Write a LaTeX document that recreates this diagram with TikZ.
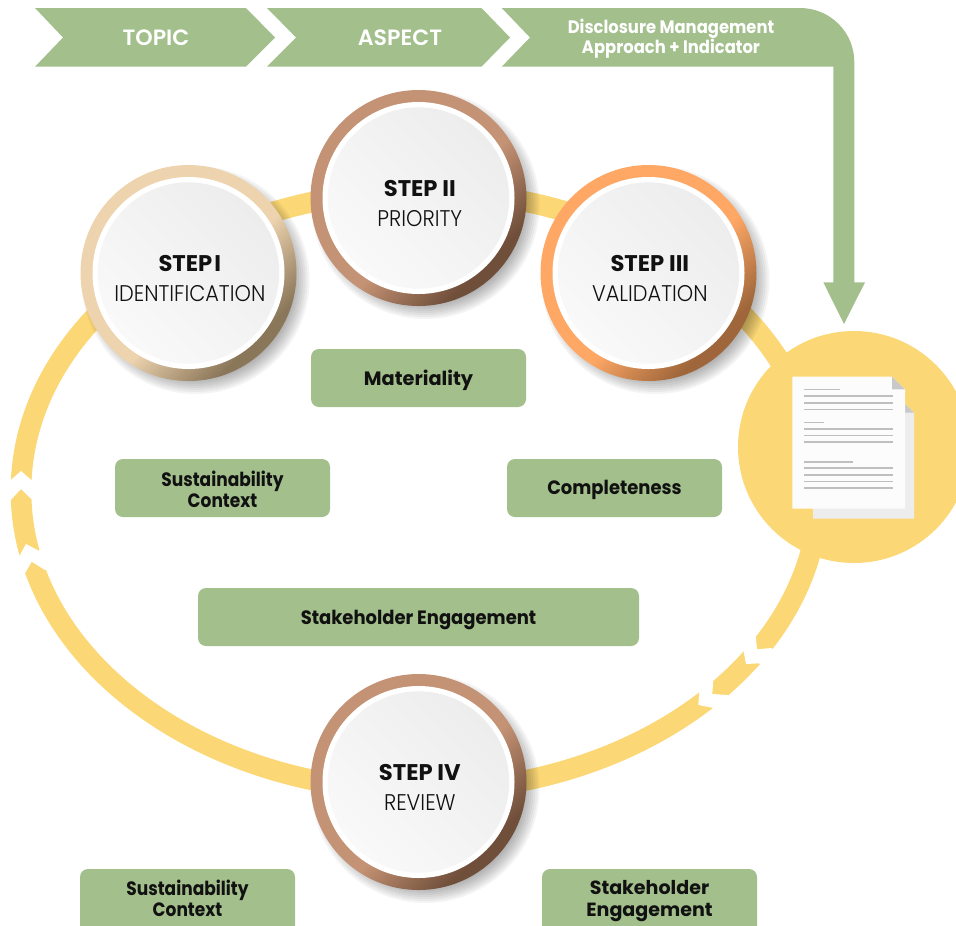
\documentclass[tikz,border=0pt]{standalone}
\usepackage{fontspec}
\setmainfont{Poppins}
\newfontfamily\lightf[UprightFont=* Light,FakeStretch=0.92]{Poppins}
\newfontfamily\semif[UprightFont=* SemiBold]{Poppins}
\newfontfamily\semicond[UprightFont=* Bold,FakeStretch=0.91]{Poppins}
\newfontfamily\boldA[UprightFont=* Bold,FakeStretch=0.88]{Poppins}
\newfontfamily\boldB[UprightFont=* Bold,FakeStretch=0.93]{Poppins}
\newfontfamily\boldC[UprightFont=* Bold]{Poppins}
\definecolor{ringy}{HTML}{FBD775}
\definecolor{leaf}{HTML}{A2BF8C}
\definecolor{inka}{HTML}{111111}
\definecolor{rimIa}{HTML}{EDD3AE}\definecolor{rimIb}{HTML}{8A7659}
\definecolor{rimIIa}{HTML}{C49274}\definecolor{rimIIb}{HTML}{6F4E3A}
\definecolor{rimIIIa}{HTML}{FFA866}\definecolor{rimIIIb}{HTML}{9E663A}
\definecolor{discA}{HTML}{EDEDED}\definecolor{discB}{HTML}{F9F9F9}
\pgfdeclarehorizontalshading{shRimI}{100bp}{color(0bp)=(rimIa);color(55bp)=(rimIa);color(72bp)=(rimIb);color(100bp)=(rimIb)}
\pgfdeclarehorizontalshading{shRimII}{100bp}{color(0bp)=(rimIIa);color(55bp)=(rimIIa);color(72bp)=(rimIIb);color(100bp)=(rimIIb)}
\pgfdeclarehorizontalshading{shRimIII}{100bp}{color(0bp)=(rimIIIa);color(55bp)=(rimIIIa);color(72bp)=(rimIIIb);color(100bp)=(rimIIIb)}
\tikzset{
  x=0.75pt,y=-0.75pt,
  ringline/.style={draw=ringy,line width=15.5pt},
  notch/.style={fill=white,draw=none},
  rimdisc/.style={circle,minimum size=162pt,inner sep=0pt,shading angle=-45},
  whitedisc/.style={circle,fill=white,minimum size=144pt,inner sep=0pt},
  facedisc/.style={circle,minimum size=136pt,inner sep=0pt,left color=discA,right color=discB,shading angle=-45},
  steplabel/.style={align=center,text=inka,font=\fontsize{17}{22.5}\selectfont},
  greenbox/.style={fill=leaf,rounded corners=6pt,draw=none},
  boxlabel/.style={align=center,text=inka,font=\fontsize{14.5}{15.6}\selectfont\boldB},
  bandtext/.style={align=center,text=white,font=\fontsize{16.6}{17}\selectfont\semif},
  band/.style={fill=leaf,draw=none},
  docline/.style={draw=black!25,line width=1.2pt},
}
\newcommand{\softshadow}[3]{%
  \foreach \rr in {100,102,...,114}{\fill[black,opacity=0.045] (#1+#3,#2+#3) circle[radius=\rr*0.75pt];}}
\begin{document}
\begin{tikzpicture}
\clip (0,0) rectangle (956,925);
% ring
\coordinate (ringc) at (420,491);
\draw[ringline] (ringc) ellipse[x radius=399*0.75pt,y radius=300*0.75pt];
% chevron gaps
\fill[notch] (5,480)--(10.7,480)--(21,471)--(31.3,480)--(37,480)--(37,499)--(31.3,499)--(21,489)--(10.7,500)--(5,500)--cycle;
\fill[notch] (38.7,550.7)--(26,544)--(19.3,556)--(13,559)--(19,577)--(25,573.3)--(31.7,561.7)--(45,570)--(51,567)--(44,548)--cycle;
\fill[notch] (755.7,635)--(757,649.3)--(771.3,648)--(776,652)--(764,667.5)--(759,663.3)--(746,664)--(743.3,650)--(738,645.5)--(751,630.5)--cycle;
\fill[notch] (713.3,679.3)--(712.3,694)--(727.7,695)--(732,700)--(717,713)--(712.3,707.7)--(698.3,705)--(699.3,691.7)--(695,686.5)--(709.5,674.5)--cycle;
% document disc
\node[circle,fill=ringy,minimum size=174pt,inner sep=0pt] (docdisc) at (854,447) {};
\fill[black!7] (813,518.7) -- (914,518.7) -- (914,412.7) -- (905,404) -- (813,404) -- cycle;
\fill[black!21] (905,404) -- (914,412.7) -- (905,412.7) -- cycle;
\fill[black!1] (792.3,376.7) -- (892,376.7) -- (905,389.3) -- (905,508.7) -- (792.3,508.7) -- cycle;
\fill[black!21] (892,376.7) -- (905,389.3) -- (892,389.3) -- cycle;
\foreach \yy/\xx in {389.3/840,396/893,402.7/893,409.3/893,422.3/824.3,429/893,435.3/893,442/893,461.7/853.3,468/893,474.7/893,481.3/893,488/893}
  \draw[docline] (804,\yy) -- (\xx,\yy);
% top bands
\fill[band] (35,8) -- (246,8) -- (275,37.5) -- (246,66.7) -- (35,66.7) -- (63,37.5) -- cycle;
\fill[band] (267,8) -- (481.5,8) -- (510,37.5) -- (481.5,66.7) -- (267,66.7) -- (296,37.5) -- cycle;
\fill[band] (501.7,8) -- (800,8) .. controls (830,8) and (854.3,32) .. (854.3,62) -- (854.3,282.3) -- (865,282.3) -- (844,324) -- (823.3,282.3) -- (833.3,282.3) -- (833.3,66.7) -- (501.7,66.7) -- (530,37.5) -- cycle;
\node[bandtext] (topic) at (156,37.5) {TOPIC};
\node[bandtext] (aspect) at (400,37.5) {ASPECT};
\node[bandtext,font=\fontsize{13.5}{15}\selectfont\semicond] (dma) at (671,38.5) {Disclosure Management\\Approach + Indicator};
% step discs
\softshadow{188.5}{273}{7}
\softshadow{418.5}{198}{7}
\softshadow{648.5}{273}{7}
\softshadow{418.5}{782}{7}
\foreach \nm/\cx/\cy/\sh in {stepI/188.5/273/shRimI,stepII/418.5/198/shRimII,stepIII/648.5/273/shRimIII,stepIV/418.5/782/shRimII}{
  \node[rimdisc,shading=\sh] (\nm) at (\cx,\cy) {};
  \node[whitedisc] (\nm w) at (\nm) {};
  \node[facedisc] (\nm f) at (\nm) {};
}
\node[steplabel,yshift=-4pt,xshift=1pt] (lI) at (stepIf) {{\boldC STEP\kern-2pt\ I}\\{\lightf IDENTIFICATION}};
\node[steplabel,yshift=-4pt,xshift=1pt] (lII) at (stepIIf) {{\boldC STEP II}\\{\lightf PRIORITY}};
\node[steplabel,yshift=-4pt,xshift=1pt] (lIII) at (stepIIIf) {{\boldC STEP III}\\{\lightf VALIDATION}};
\node[steplabel,yshift=-4pt,xshift=1pt] (lIV) at (stepIVf) {{\boldC STEP IV}\\{\lightf REVIEW}};
% green boxes
\fill[greenbox] (311,349) rectangle (526,407);
\node[boxlabel,font=\fontsize{14.5}{15.6}\selectfont\boldC] (mat) at (418.5,380) {Materiality};
\fill[greenbox] (115,459) rectangle (330,517);
\node[boxlabel,font=\fontsize{14.5}{15.6}\selectfont\boldA] (sc) at (222.5,489) {Sustainability\\Context};
\fill[greenbox] (507,459) rectangle (722,517);
\node[boxlabel] (comp) at (614.5,490) {Completeness};
\fill[greenbox] (198,588) rectangle (639,646);
\node[boxlabel] (se) at (418.5,619.5) {Stakeholder Engagement};
\fill[greenbox] (80,869) rectangle (295,935);
\node[boxlabel,font=\fontsize{14.5}{15.6}\selectfont\boldA] (sc2) at (187.5,898) {Sustainability\\Context};
\fill[greenbox] (542,869) rectangle (757,935);
\node[boxlabel,font=\fontsize{14.3}{16}\selectfont\boldC] (se2) at (649.5,901) {Stakeholder\\Engagement};
\end{tikzpicture}
\end{document}
